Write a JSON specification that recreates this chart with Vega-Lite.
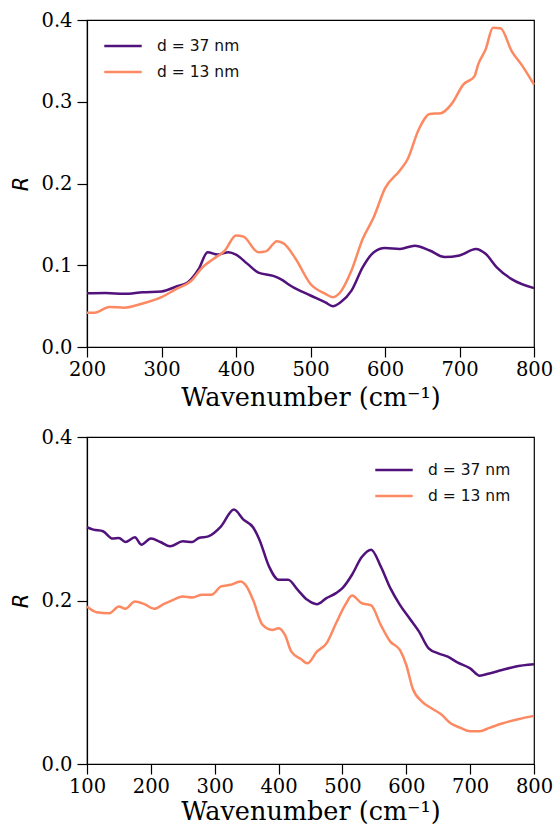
{
  "$schema": "https://vega.github.io/schema/vega-lite/v6.json",
  "autosize": {"type": "pad"},
  "padding": {"left": 10, "top": 9, "right": 0, "bottom": 0},
  "background": "white",
  "config": {
    "view": {"stroke": "black", "strokeWidth": 1.2},
    "axis": {
      "labelFont": "DejaVu Serif", "labelFontSize": 19.5, "labelColor": "black", "labelFlush": false, "labelOverlap": false,
      "titleFont": "DejaVu Serif", "titleFontSize": 25.5, "titleFontWeight": "normal", "titleColor": "black",
      "tickColor": "black", "tickSize": 10, "tickWidth": 1.2, "domainColor": "black", "domainWidth": 1.2,
      "grid": false, "labelPadding": 3, "titlePadding": 7
    },
    "axisY": {"labelPadding": 5, "titleFont": "DejaVu Sans", "titleFontStyle": "italic", "titleFontSize": 21, "titlePadding": 9},
    "legend": {
      "labelFont": "DejaVu Sans", "labelFontSize": 15.5, "labelColor": "#111", "labelOffset": 14,
      "symbolType": "stroke", "symbolSize": 1400, "symbolStrokeWidth": 2.5, "clipHeight": 20,
      "title": null, "rowPadding": 6, "padding": 0
    }
  },
  "datasets": {
    "top": [
      {"w":200,"R":0.0656,"s":"d = 37 nm"},{"w":225,"R":0.066,"s":"d = 37 nm"},{"w":250,"R":0.065,"s":"d = 37 nm"},{"w":275,"R":0.067,"s":"d = 37 nm"},{"w":300,"R":0.068,"s":"d = 37 nm"},{"w":320,"R":0.074,"s":"d = 37 nm"},{"w":335,"R":0.079,"s":"d = 37 nm"},{"w":350,"R":0.0955,"s":"d = 37 nm"},{"w":362,"R":0.116,"s":"d = 37 nm"},{"w":375,"R":0.113,"s":"d = 37 nm"},{"w":390,"R":0.116,"s":"d = 37 nm"},{"w":400,"R":0.113,"s":"d = 37 nm"},{"w":415,"R":0.102,"s":"d = 37 nm"},{"w":430,"R":0.091,"s":"d = 37 nm"},{"w":450,"R":0.087,"s":"d = 37 nm"},{"w":460,"R":0.083,"s":"d = 37 nm"},{"w":475,"R":0.074,"s":"d = 37 nm"},{"w":500,"R":0.063,"s":"d = 37 nm"},{"w":520,"R":0.0545,"s":"d = 37 nm"},{"w":530,"R":0.05,"s":"d = 37 nm"},{"w":540,"R":0.0545,"s":"d = 37 nm"},{"w":555,"R":0.069,"s":"d = 37 nm"},{"w":570,"R":0.0975,"s":"d = 37 nm"},{"w":585,"R":0.116,"s":"d = 37 nm"},{"w":600,"R":0.121,"s":"d = 37 nm"},{"w":620,"R":0.12,"s":"d = 37 nm"},{"w":640,"R":0.124,"s":"d = 37 nm"},{"w":660,"R":0.118,"s":"d = 37 nm"},{"w":680,"R":0.11,"s":"d = 37 nm"},{"w":700,"R":0.112,"s":"d = 37 nm"},{"w":722,"R":0.12,"s":"d = 37 nm"},{"w":735,"R":0.114,"s":"d = 37 nm"},{"w":750,"R":0.0975,"s":"d = 37 nm"},{"w":770,"R":0.083,"s":"d = 37 nm"},{"w":800,"R":0.072,"s":"d = 37 nm"},
      {"w":200,"R":0.042,"s":"d = 13 nm"},{"w":210,"R":0.042,"s":"d = 13 nm"},{"w":230,"R":0.049,"s":"d = 13 nm"},{"w":250,"R":0.048,"s":"d = 13 nm"},{"w":270,"R":0.052,"s":"d = 13 nm"},{"w":300,"R":0.061,"s":"d = 13 nm"},{"w":320,"R":0.071,"s":"d = 13 nm"},{"w":340,"R":0.081,"s":"d = 13 nm"},{"w":355,"R":0.0975,"s":"d = 13 nm"},{"w":370,"R":0.108,"s":"d = 13 nm"},{"w":385,"R":0.118,"s":"d = 13 nm"},{"w":400,"R":0.1365,"s":"d = 13 nm"},{"w":410,"R":0.135,"s":"d = 13 nm"},{"w":430,"R":0.116,"s":"d = 13 nm"},{"w":440,"R":0.117,"s":"d = 13 nm"},{"w":455,"R":0.1295,"s":"d = 13 nm"},{"w":465,"R":0.126,"s":"d = 13 nm"},{"w":480,"R":0.108,"s":"d = 13 nm"},{"w":500,"R":0.077,"s":"d = 13 nm"},{"w":520,"R":0.065,"s":"d = 13 nm"},{"w":530,"R":0.061,"s":"d = 13 nm"},{"w":540,"R":0.067,"s":"d = 13 nm"},{"w":555,"R":0.0935,"s":"d = 13 nm"},{"w":570,"R":0.132,"s":"d = 13 nm"},{"w":585,"R":0.159,"s":"d = 13 nm"},{"w":600,"R":0.194,"s":"d = 13 nm"},{"w":620,"R":0.216,"s":"d = 13 nm"},{"w":630,"R":0.229,"s":"d = 13 nm"},{"w":645,"R":0.2655,"s":"d = 13 nm"},{"w":660,"R":0.285,"s":"d = 13 nm"},{"w":675,"R":0.286,"s":"d = 13 nm"},{"w":690,"R":0.298,"s":"d = 13 nm"},{"w":705,"R":0.321,"s":"d = 13 nm"},{"w":720,"R":0.331,"s":"d = 13 nm"},{"w":725,"R":0.3455,"s":"d = 13 nm"},{"w":735,"R":0.364,"s":"d = 13 nm"},{"w":745,"R":0.3905,"s":"d = 13 nm"},{"w":755,"R":0.39,"s":"d = 13 nm"},{"w":770,"R":0.362,"s":"d = 13 nm"},{"w":785,"R":0.343,"s":"d = 13 nm"},{"w":800,"R":0.321,"s":"d = 13 nm"}
    ],
    "bottom": [
      {"w":100,"R":0.2896,"s":"d = 37 nm"},{"w":110,"R":0.2867,"s":"d = 37 nm"},{"w":125,"R":0.2847,"s":"d = 37 nm"},{"w":140,"R":0.2757,"s":"d = 37 nm"},{"w":150,"R":0.2765,"s":"d = 37 nm"},{"w":160,"R":0.2716,"s":"d = 37 nm"},{"w":175,"R":0.2773,"s":"d = 37 nm"},{"w":185,"R":0.2683,"s":"d = 37 nm"},{"w":200,"R":0.2757,"s":"d = 37 nm"},{"w":215,"R":0.2716,"s":"d = 37 nm"},{"w":230,"R":0.2663,"s":"d = 37 nm"},{"w":250,"R":0.2724,"s":"d = 37 nm"},{"w":265,"R":0.2716,"s":"d = 37 nm"},{"w":275,"R":0.2765,"s":"d = 37 nm"},{"w":290,"R":0.2785,"s":"d = 37 nm"},{"w":310,"R":0.2908,"s":"d = 37 nm"},{"w":330,"R":0.3112,"s":"d = 37 nm"},{"w":345,"R":0.299,"s":"d = 37 nm"},{"w":360,"R":0.2896,"s":"d = 37 nm"},{"w":370,"R":0.2744,"s":"d = 37 nm"},{"w":385,"R":0.2417,"s":"d = 37 nm"},{"w":400,"R":0.2254,"s":"d = 37 nm"},{"w":415,"R":0.2254,"s":"d = 37 nm"},{"w":430,"R":0.213,"s":"d = 37 nm"},{"w":445,"R":0.2008,"s":"d = 37 nm"},{"w":460,"R":0.1955,"s":"d = 37 nm"},{"w":475,"R":0.2029,"s":"d = 37 nm"},{"w":490,"R":0.209,"s":"d = 37 nm"},{"w":500,"R":0.2151,"s":"d = 37 nm"},{"w":515,"R":0.2315,"s":"d = 37 nm"},{"w":530,"R":0.2528,"s":"d = 37 nm"},{"w":545,"R":0.2622,"s":"d = 37 nm"},{"w":560,"R":0.2417,"s":"d = 37 nm"},{"w":575,"R":0.2151,"s":"d = 37 nm"},{"w":590,"R":0.1947,"s":"d = 37 nm"},{"w":605,"R":0.1783,"s":"d = 37 nm"},{"w":620,"R":0.162,"s":"d = 37 nm"},{"w":635,"R":0.1415,"s":"d = 37 nm"},{"w":650,"R":0.1354,"s":"d = 37 nm"},{"w":665,"R":0.1313,"s":"d = 37 nm"},{"w":680,"R":0.1243,"s":"d = 37 nm"},{"w":700,"R":0.117,"s":"d = 37 nm"},{"w":715,"R":0.108,"s":"d = 37 nm"},{"w":730,"R":0.1108,"s":"d = 37 nm"},{"w":750,"R":0.115,"s":"d = 37 nm"},{"w":770,"R":0.119,"s":"d = 37 nm"},{"w":800,"R":0.1219,"s":"d = 37 nm"},
      {"w":100,"R":0.1926,"s":"d = 13 nm"},{"w":115,"R":0.1857,"s":"d = 13 nm"},{"w":135,"R":0.1845,"s":"d = 13 nm"},{"w":150,"R":0.1926,"s":"d = 13 nm"},{"w":160,"R":0.1898,"s":"d = 13 nm"},{"w":175,"R":0.1988,"s":"d = 13 nm"},{"w":190,"R":0.1955,"s":"d = 13 nm"},{"w":205,"R":0.1898,"s":"d = 13 nm"},{"w":220,"R":0.1955,"s":"d = 13 nm"},{"w":235,"R":0.2008,"s":"d = 13 nm"},{"w":250,"R":0.2049,"s":"d = 13 nm"},{"w":265,"R":0.2037,"s":"d = 13 nm"},{"w":280,"R":0.207,"s":"d = 13 nm"},{"w":295,"R":0.207,"s":"d = 13 nm"},{"w":310,"R":0.2172,"s":"d = 13 nm"},{"w":325,"R":0.2192,"s":"d = 13 nm"},{"w":340,"R":0.2233,"s":"d = 13 nm"},{"w":350,"R":0.2172,"s":"d = 13 nm"},{"w":360,"R":0.2008,"s":"d = 13 nm"},{"w":375,"R":0.1701,"s":"d = 13 nm"},{"w":390,"R":0.164,"s":"d = 13 nm"},{"w":400,"R":0.1661,"s":"d = 13 nm"},{"w":410,"R":0.1579,"s":"d = 13 nm"},{"w":420,"R":0.1374,"s":"d = 13 nm"},{"w":435,"R":0.1284,"s":"d = 13 nm"},{"w":445,"R":0.1231,"s":"d = 13 nm"},{"w":460,"R":0.1374,"s":"d = 13 nm"},{"w":475,"R":0.1476,"s":"d = 13 nm"},{"w":490,"R":0.1722,"s":"d = 13 nm"},{"w":505,"R":0.1955,"s":"d = 13 nm"},{"w":515,"R":0.2061,"s":"d = 13 nm"},{"w":530,"R":0.1967,"s":"d = 13 nm"},{"w":545,"R":0.1939,"s":"d = 13 nm"},{"w":560,"R":0.1701,"s":"d = 13 nm"},{"w":575,"R":0.1497,"s":"d = 13 nm"},{"w":590,"R":0.1395,"s":"d = 13 nm"},{"w":600,"R":0.1211,"s":"d = 13 nm"},{"w":610,"R":0.0924,"s":"d = 13 nm"},{"w":625,"R":0.0761,"s":"d = 13 nm"},{"w":640,"R":0.0679,"s":"d = 13 nm"},{"w":655,"R":0.0605,"s":"d = 13 nm"},{"w":670,"R":0.0495,"s":"d = 13 nm"},{"w":685,"R":0.0442,"s":"d = 13 nm"},{"w":700,"R":0.0401,"s":"d = 13 nm"},{"w":715,"R":0.0401,"s":"d = 13 nm"},{"w":730,"R":0.0442,"s":"d = 13 nm"},{"w":750,"R":0.0495,"s":"d = 13 nm"},{"w":775,"R":0.0548,"s":"d = 13 nm"},{"w":800,"R":0.0589,"s":"d = 13 nm"}
    ]
  },
  "vconcat": [
    {
      "width": 447, "height": 327,
      "data": {"name": "top"},
      "mark": {"type": "line", "strokeWidth": 2.5, "interpolate": "monotone"},
      "encoding": {
        "x": {"field": "w", "type": "quantitative", "title": "Wavenumber (cm⁻¹)",
              "scale": {"domain": [200, 800], "nice": false},
              "axis": {"values": [200, 300, 400, 500, 600, 700, 800]}},
        "y": {"field": "R", "type": "quantitative", "title": "R",
              "scale": {"domain": [0, 0.4], "nice": false},
              "axis": {"values": [0, 0.1, 0.2, 0.3, 0.4], "format": ".1f"}},
        "color": {"field": "s", "type": "nominal",
                  "scale": {"domain": ["d = 37 nm", "d = 13 nm"], "range": ["#51127c", "#fc8961"]},
                  "legend": {"orient": "top-left", "offset": 16}}
      }
    },
    {
      "width": 447, "height": 327,
      "data": {"name": "bottom"},
      "mark": {"type": "line", "strokeWidth": 2.5, "interpolate": "monotone"},
      "encoding": {
        "x": {"field": "w", "type": "quantitative", "title": "Wavenumber (cm⁻¹)",
              "scale": {"domain": [100, 800], "nice": false},
              "axis": {"values": [100, 200, 300, 400, 500, 600, 700, 800], "titlePadding": 4}},
        "y": {"field": "R", "type": "quantitative", "title": "R",
              "scale": {"domain": [0, 0.4], "nice": false},
              "axis": {"values": [0, 0.2, 0.4], "format": ".1f"}},
        "color": {"field": "s", "type": "nominal",
                  "scale": {"domain": ["d = 37 nm", "d = 13 nm"], "range": ["#51127c", "#fc8961"]},
                  "legend": {"orient": "top-right", "offset": 23}}
      }
    }
  ],
  "resolve": {"scale": {"color": "independent"}, "legend": {"color": "independent"}},
  "spacing": 14
}
